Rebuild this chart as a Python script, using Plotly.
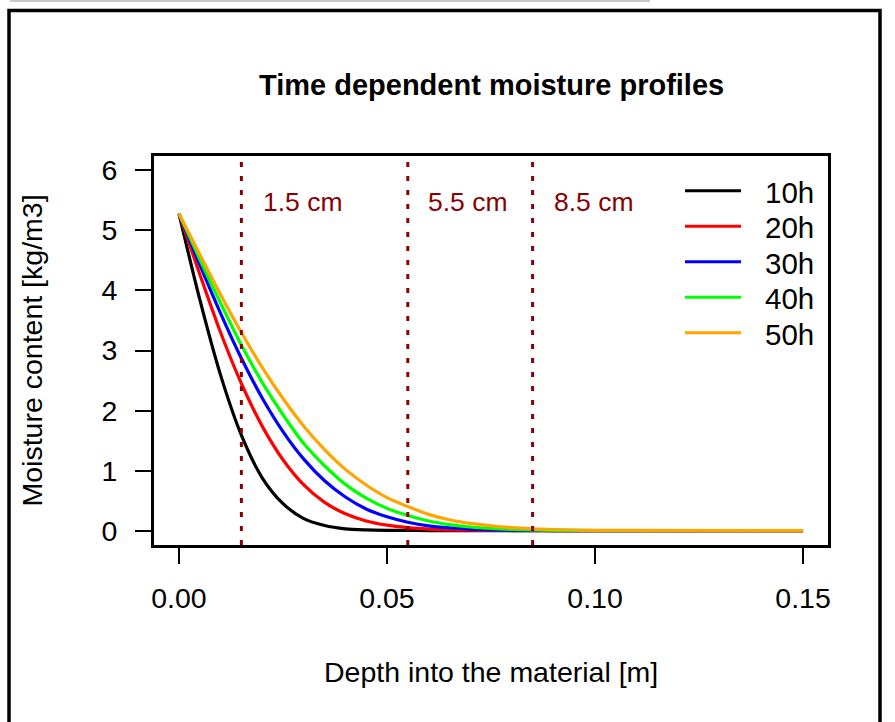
import plotly.graph_objects as go

# ---------------- data ----------------
depth_m = [0.0, 0.005, 0.01, 0.015, 0.02, 0.025, 0.03, 0.035, 0.04, 0.045, 0.05,
           0.055, 0.06, 0.065, 0.07, 0.075, 0.08, 0.085, 0.09, 0.095, 0.10, 0.15]

moist_10h = [5.28, 3.85, 2.59, 1.59, 0.88, 0.45, 0.20, 0.085, 0.03, 0.012, 0.005,
             0.002, 0.001, 0, 0, 0, 0, 0, 0, 0, 0, 0]
moist_20h = [5.28, 4.27, 3.30, 2.45, 1.74, 1.18, 0.76, 0.47, 0.28, 0.16, 0.09,
             0.05, 0.026, 0.013, 0.006, 0.003, 0.001, 0, 0, 0, 0, 0]
moist_30h = [5.28, 4.43, 3.62, 2.87, 2.21, 1.65, 1.19, 0.83, 0.56, 0.36, 0.23,
             0.14, 0.08, 0.047, 0.025, 0.012, 0.006, 0.003, 0.001, 0, 0, 0]
moist_40h = [5.28, 4.52, 3.79, 3.09, 2.47, 1.93, 1.45, 1.08, 0.77, 0.54, 0.37,
             0.25, 0.16, 0.10, 0.06, 0.035, 0.02, 0.01, 0.005, 0.002, 0.001, 0]
moist_50h = [5.28, 4.60, 3.93, 3.30, 2.72, 2.20, 1.74, 1.35, 1.02, 0.76, 0.55,
             0.40, 0.27, 0.18, 0.12, 0.08, 0.05, 0.03, 0.018, 0.01, 0.005, 0]

series_labels = ["10h", "20h", "30h", "40h", "50h"]
series_colors = ["black", "red", "blue", "#00FF00", "orange"]
series_values = [moist_10h, moist_20h, moist_30h, moist_40h, moist_50h]

marker_depths = [0.015, 0.055, 0.085]
marker_labels = ["1.5 cm", "5.5 cm", "8.5 cm"]
marker_label_x = [0.0298, 0.0695, 0.0998]
marker_label_y = 5.47

x_tickvals = [0.0, 0.05, 0.10, 0.15]
x_ticktext = ["0.00", "0.05", "0.10", "0.15"]
y_tickvals = [0, 1, 2, 3, 4, 5, 6]

title_text = "Time dependent moisture profiles"
x_title = "Depth into the material [m]"
y_title = "Moisture content [kg/m3]"

# ---------------- layout geometry ----------------
W, H = 895, 722
L, T, PW, PH = 154, 156, 674, 389
FONT = "Liberation Sans, Arial, sans-serif"
DARKRED = "#8B0000"


def px(xp):
    return (xp - L) / PW


def py(yp):
    return (T + PH - yp) / PH


fig = go.Figure()

for lab, col, vals in zip(series_labels, series_colors, series_values):
    fig.add_trace(go.Scatter(
        x=depth_m, y=vals, mode="lines", name=lab,
        line=dict(color=col, width=3.2, shape="spline", smoothing=0.8),
        showlegend=False, cliponaxis=True, hoverinfo="skip",
    ))

shapes = []
for d in marker_depths:
    shapes.append(dict(type="line", xref="x", yref="paper", x0=d, x1=d, y0=0, y1=1,
                       line=dict(color=DARKRED, width=3, dash="5px,9px"), layer="above"))

annotations = []
for lx, lt in zip(marker_label_x, marker_labels):
    annotations.append(dict(x=lx, y=marker_label_y, xref="x", yref="y", text=lt,
                            showarrow=False, font=dict(family=FONT, size=26.5, color=DARKRED),
                            xanchor="center", yanchor="middle"))

# manual legend
leg_y0 = 190.7
leg_dy = 35.5
for i, (lab, col) in enumerate(zip(series_labels, series_colors)):
    yy = py(leg_y0 + i * leg_dy)
    shapes.append(dict(type="line", xref="paper", yref="paper", x0=px(685), x1=px(741),
                       y0=yy, y1=yy, line=dict(color=col, width=3)))
    annotations.append(dict(x=px(763), y=py(leg_y0 + 1.5 + i * leg_dy), xref="paper", yref="paper",
                            text=lab, showarrow=False, xanchor="left", yanchor="middle",
                            font=dict(family=FONT, size=29.5, color="black")))

# titles
annotations.append(dict(x=px(491), y=py(85), xref="paper", yref="paper",
                        text="<b>" + title_text + "</b>", showarrow=False,
                        xanchor="center", yanchor="middle",
                        font=dict(family=FONT, size=29, color="black")))
annotations.append(dict(x=px(491), y=py(672), xref="paper", yref="paper",
                        text=x_title, showarrow=False, xanchor="center", yanchor="middle",
                        font=dict(family=FONT, size=28.5, color="black")))
annotations.append(dict(x=px(31), y=py(350.5), xref="paper", yref="paper",
                        text=y_title, showarrow=False, xanchor="center", yanchor="middle",
                        textangle=-90, font=dict(family=FONT, size=28.5, color="black")))

# outer frame + top grey strip
shapes.append(dict(type="rect", xref="paper", yref="paper", x0=px(9), x1=px(880),
                   y0=py(740), y1=py(10.5), line=dict(color="black", width=3.5)))
shapes.append(dict(type="line", xref="paper", yref="paper", x0=px(10), x1=px(650),
                   y0=py(1), y1=py(1), line=dict(color="#c8c8c8", width=2)))

axis_common = dict(showline=True, linecolor="black", linewidth=3, mirror=True,
                   ticks="outside", ticklen=16, tickwidth=1.5, tickcolor="black",
                   showgrid=False, zeroline=False,
                   tickfont=dict(family=FONT, size=28.5, color="black"))

fig.update_layout(
    width=W, height=H,
    margin=dict(l=L, r=W - L - PW, t=T, b=H - T - PH, pad=0),
    paper_bgcolor="white", plot_bgcolor="white",
    showlegend=False,
    xaxis=dict(range=[-0.006, 0.156], tickvals=x_tickvals, ticktext=x_ticktext,
               ticklabelstandoff=10, **axis_common),
    yaxis=dict(range=[-0.24, 6.24], tickvals=y_tickvals, ticklabelstandoff=12,
               **axis_common),
    shapes=shapes, annotations=annotations,
    font=dict(family=FONT),
    hovermode=False,
)

fig.write_html("out.html",
               config={"displayModeBar": False},
               post_script="document.body.style.margin='0px';document.body.style.overflow='hidden';")
